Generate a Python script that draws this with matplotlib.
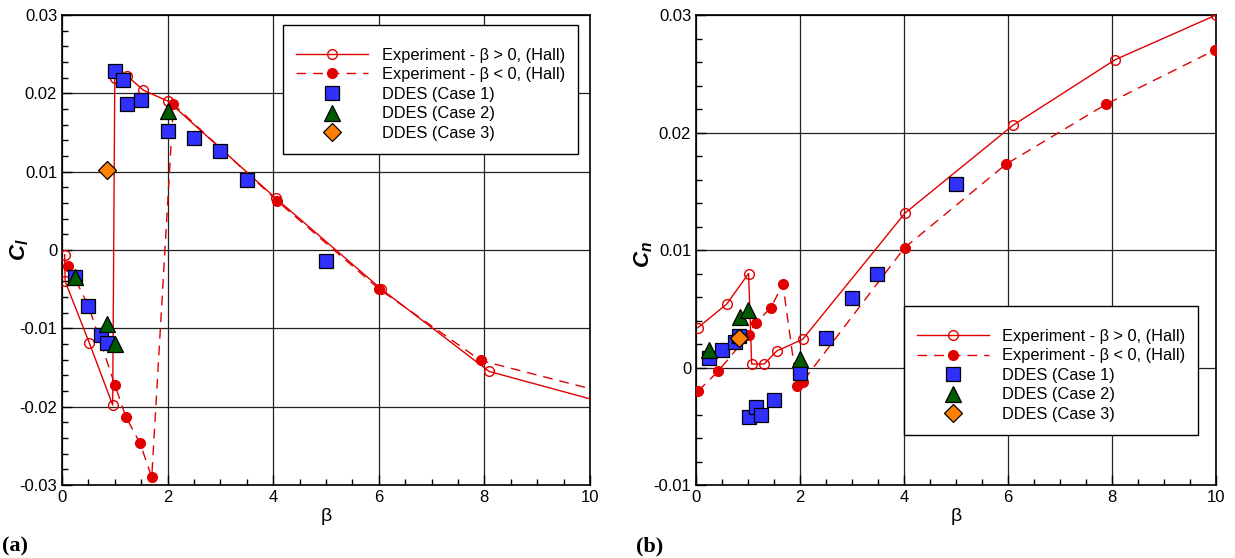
import matplotlib
matplotlib.use("Agg")
import matplotlib.pyplot as plt
from matplotlib.ticker import MultipleLocator

plt.rcParams['font.family'] = ['Liberation Sans', 'DejaVu Sans']
plt.rcParams['mathtext.fontset'] = 'custom'
plt.rcParams['mathtext.it'] = 'Liberation Sans:bold:italic'
plt.rcParams['mathtext.rm'] = 'Liberation Sans:bold'

# ---- Rolling moment, C_l ----
cl_pos_beta = [0.05, 0.06, 0.52, 0.96, 1.00, 1.24, 1.54, 2.01, 4.05, 6.05, 8.09, 10.0]
cl_pos_val = [-0.0006, -0.0040, -0.0119, -0.0198, 0.0219, 0.0222, 0.0204, 0.0190,
              0.0066, -0.0050, -0.0155, -0.0190]
cl_neg_beta = [0.12, 0.50, 1.00, 1.21, 1.48, 1.70, 2.11, 4.07, 6.01, 7.93, 10.0]
cl_neg_val = [-0.0020, -0.0071, -0.0172, -0.0213, -0.0247, -0.0290, 0.0186,
              0.0063, -0.0050, -0.0141, -0.0177]
cl_c1_beta = [0.25, 0.50, 0.74, 0.85, 1.00, 1.15, 1.24, 1.49, 2.00, 2.50, 3.00, 3.50, 5.00]
cl_c1_val = [-0.0035, -0.0072, -0.0109, -0.0119, 0.0228, 0.0217, 0.0186, 0.0192,
             0.0152, 0.0143, 0.0126, 0.0089, -0.00145]
cl_c2_beta = [0.25, 0.85, 1.00, 2.00]
cl_c2_val = [-0.0035, -0.0095, -0.0120, 0.0178]
cl_c3_beta = [0.85]
cl_c3_val = [0.0102]

# ---- Yawing moment, C_n ----
cn_pos_beta = [0.04, 0.59, 1.01, 1.07, 1.31, 1.55, 2.05, 4.02, 6.09, 8.06, 10.0]
cn_pos_val = [0.0034, 0.0054, 0.0080, 0.0003, 0.0003, 0.0014, 0.0024, 0.01315,
              0.0206, 0.0262, 0.0300]
cn_neg_beta = [0.04, 0.43, 1.01, 1.15, 1.44, 1.67, 1.94, 2.05, 4.01, 5.96, 7.88, 9.97]
cn_neg_val = [-0.0020, -0.0003, 0.0028, 0.0038, 0.0051, 0.0071, -0.0016, -0.0012,
              0.0102, 0.0173, 0.0224, 0.0270]
cn_c1_beta = [0.24, 0.49, 0.75, 0.83, 1.01, 1.15, 1.24, 1.50, 2.00, 2.50, 2.99, 3.47, 5.00]
cn_c1_val = [0.0008, 0.0015, 0.0022, 0.0027, -0.0042, -0.0034, -0.0040, -0.0028,
             -0.0005, 0.0025, 0.0059, 0.0080, 0.0156]
cn_c2_beta = [0.24, 0.85, 1.00, 2.00]
cn_c2_val = [0.00145, 0.0043, 0.0049, 0.0007]
cn_c3_beta = [0.83]
cn_c3_val = [0.0025]

labels = ["Experiment - \u03b2 > 0, (Hall)", "Experiment - \u03b2 < 0, (Hall)",
          "DDES (Case 1)", "DDES (Case 2)", "DDES (Case 3)"]

RED = '#e00000'


def panel(ax, pos, neg, c1, c2, c3, ylim, ylabel, ylabel_xy, skip_last,
          leg_loc, leg_anchor):
    mk_pos = range(len(pos[0]) - 1) if skip_last else None
    mk_neg = range(len(neg[0]) - 1) if skip_last else None
    ax.plot(pos[0], pos[1], '-', color=RED, lw=1.0, marker='o', ms=7,
            mfc='none', mec=RED, mew=1.0, markevery=mk_pos, label=labels[0], zorder=3)
    ax.plot(neg[0], neg[1], color=RED, lw=1.0, dashes=(7, 5), marker='o', ms=7,
            mfc=RED, mec=RED, markevery=mk_neg, label=labels[1], zorder=3)
    ax.plot(c1[0], c1[1], 's', ms=10, mfc='#3030ff', mec='black', mew=0.9,
            label=labels[2], zorder=4)
    ax.plot(c2[0], c2[1], '^', ms=11, mfc='#005a00', mec='black', mew=0.9,
            label=labels[3], zorder=5)
    ax.plot(c3[0], c3[1], 'D', ms=9, mfc='#ff8000', mec='black', mew=0.9,
            label=labels[4], zorder=6)

    ax.set_xlim(0, 10)
    ax.set_ylim(*ylim)
    ax.xaxis.set_major_locator(MultipleLocator(2))
    ax.xaxis.set_minor_locator(MultipleLocator(0.5))
    ax.yaxis.set_major_locator(MultipleLocator(0.01))
    ax.yaxis.set_minor_locator(MultipleLocator(0.002))
    ax.yaxis.set_major_formatter(lambda v, p: '0' if abs(v) < 1e-9 else f'{v:.2f}')
    ax.tick_params(which='both', direction='in', top=False, right=False,
                   labelsize=12, width=1.0)
    ax.tick_params(which='major', length=7)
    ax.tick_params(which='minor', length=4)
    ax.grid(True, which='major', color='#222222', lw=0.9, zorder=0)
    for s in ax.spines.values():
        s.set_linewidth(1.2)
    ax.set_xlabel('\u03b2', fontsize=14, labelpad=2)
    ax.set_ylabel(ylabel, fontsize=16)
    ax.yaxis.set_label_coords(*ylabel_xy)

    leg = ax.legend(loc=leg_loc, bbox_to_anchor=leg_anchor, fontsize=11.8,
                    handlelength=4.4, handletextpad=0.8, labelspacing=0.28,
                    borderpad=0.8, borderaxespad=0, fancybox=False,
                    framealpha=1, edgecolor='black', title=' ', title_fontsize=4)
    leg.get_frame().set_linewidth(1.0)


fig = plt.figure(figsize=(12.35, 5.58), dpi=100)
ax1 = fig.add_axes([0.0502, 0.1308, 0.4275, 0.8423])
ax2 = fig.add_axes([0.5636, 0.1308, 0.4211, 0.8423])

panel(ax1, (cl_pos_beta, cl_pos_val), (cl_neg_beta, cl_neg_val),
      (cl_c1_beta, cl_c1_val), (cl_c2_beta, cl_c2_val), (cl_c3_beta, cl_c3_val),
      (-0.03, 0.03), r'$C_l$', (-0.058, 0.5), True, 'upper right', (0.977, 0.979))
panel(ax2, (cn_pos_beta, cn_pos_val), (cn_neg_beta, cn_neg_val),
      (cn_c1_beta, cn_c1_val), (cn_c2_beta, cn_c2_val), (cn_c3_beta, cn_c3_val),
      (-0.01, 0.03), r'$C_n$', (-0.078, 0.49), False, 'lower right', (0.966, 0.106))

fig.text(0.002, 0.012, '(a)', fontsize=16, fontweight='bold', family='Liberation Serif')
fig.text(0.515, 0.012, '(b)', fontsize=16, fontweight='bold', family='Liberation Serif')

fig.savefig('out.png', dpi=100)
